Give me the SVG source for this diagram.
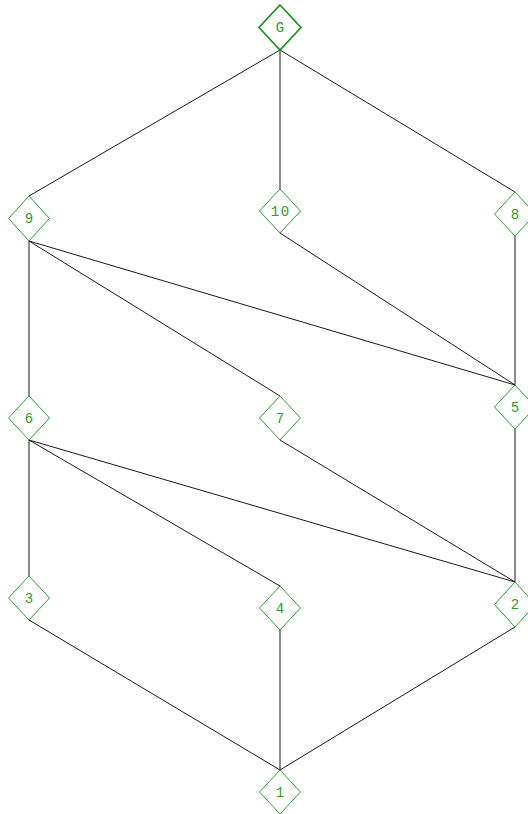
<svg xmlns="http://www.w3.org/2000/svg" width="528" height="814" viewBox="0 0 528 814">
<style>
.n polygon{fill:none;stroke:#2e9a2e;stroke-width:1}
.g polygon{stroke:#1a8a1a;stroke-width:1.6}
.n text{font-family:"Liberation Mono","Courier New",monospace;font-size:14px;fill:#2e9a2e;text-anchor:middle;letter-spacing:1.5px}
#edges line{stroke:#1a1a1a;stroke-width:1}
</style>
<rect width="528" height="814" fill="#fff"/>
<g id="edges">
<line x1="280" y1="50" x2="29" y2="196"/>
<line x1="280" y1="50" x2="280" y2="189"/>
<line x1="280" y1="50" x2="515" y2="192"/>
<line x1="29" y1="241" x2="29" y2="396"/>
<line x1="29" y1="241" x2="280" y2="396"/>
<line x1="29" y1="241" x2="515" y2="385"/>
<line x1="280" y1="233" x2="515" y2="385"/>
<line x1="515" y1="236" x2="515" y2="385"/>
<line x1="29" y1="440" x2="29" y2="576"/>
<line x1="29" y1="440" x2="280" y2="586"/>
<line x1="29" y1="440" x2="515" y2="582"/>
<line x1="280" y1="440" x2="515" y2="582"/>
<line x1="515" y1="429" x2="515" y2="582"/>
<line x1="29" y1="620" x2="280" y2="770"/>
<line x1="280" y1="630" x2="280" y2="770"/>
<line x1="515" y1="627" x2="280" y2="770"/>
</g>
<g id="nG" class="n g"><polygon points="280,5 301,27.5 280,50 259,27.5"/><text x="280.7" y="32">G</text></g>
<g id="n9" class="n"><polygon points="29,196 49.5,218.5 29,241 8.5,218.5"/><text x="29.7" y="223">9</text></g>
<g id="n10" class="n"><polygon points="280,189 300.5,211 280,233 259.5,211"/><text x="280.7" y="215.5">10</text></g>
<g id="n8" class="n"><polygon points="515,192 535.5,214 515,236 494.5,214"/><text x="515.7" y="218.5">8</text></g>
<g id="n6" class="n"><polygon points="29,396 49.5,418 29,440 8.5,418"/><text x="29.7" y="422.5">6</text></g>
<g id="n7" class="n"><polygon points="280,396 300.5,418 280,440 259.5,418"/><text x="280.7" y="422.5">7</text></g>
<g id="n5" class="n"><polygon points="515,385 535.5,407 515,429 494.5,407"/><text x="515.7" y="411.5">5</text></g>
<g id="n3" class="n"><polygon points="29,576 49.5,598 29,620 8.5,598"/><text x="29.7" y="602.5">3</text></g>
<g id="n4" class="n"><polygon points="280,586 300.5,608 280,630 259.5,608"/><text x="280.7" y="612.5">4</text></g>
<g id="n2" class="n"><polygon points="515,582 535.5,604.5 515,627 494.5,604.5"/><text x="515.7" y="609">2</text></g>
<g id="n1" class="n"><polygon points="280,770 300.5,792 280,814 259.5,792"/><text x="280.7" y="796.5">1</text></g>
</svg>
